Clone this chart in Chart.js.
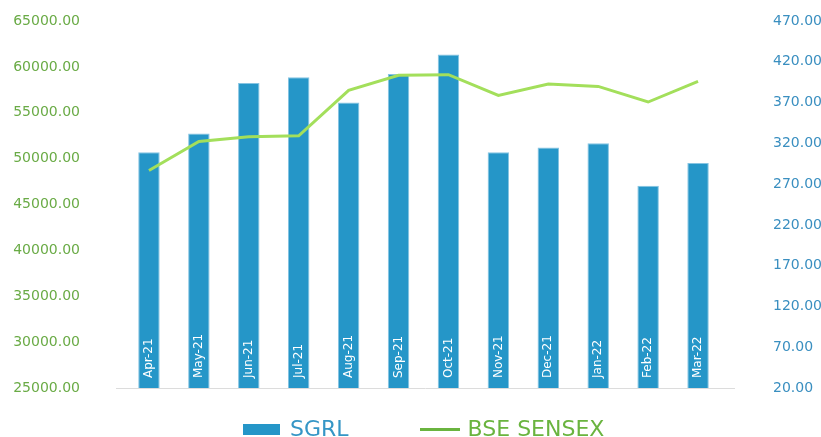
<!DOCTYPE html>
<html>
<head>
<meta charset="utf-8">
<script src="https://cdn.jsdelivr.net/npm/chart.js@4/dist/chart.umd.min.js"></script>
<style>
  html, body { margin: 0; padding: 0; background: #fff; }
  #wrap { position: relative; width: 821px; height: 437px; }
  #legend {
    position: absolute; left: 243px; top: 416px;
    display: flex; align-items: center; gap: 71px;
    font-family: "DejaVu Sans", sans-serif; font-size: 22px; line-height: 26px;
  }
  .item { display: flex; align-items: center; }
  .swatch { display: inline-block; margin-right: 10px; }
</style>
</head>
<body>
<div id="wrap">
  <canvas id="chart" width="821" height="437"></canvas>
  <div id="legend"></div>
</div>
<script>
"use strict";

const months = ["Apr-21", "May-21", "Jun-21", "Jul-21", "Aug-21", "Sep-21",
                "Oct-21", "Nov-21", "Dec-21", "Jan-22", "Feb-22", "Mar-22"];
const sgrl = [309, 332, 394, 401, 370, 405, 429, 309, 315, 320, 268, 296];
const sensex = [48700, 51860, 52380, 52490, 57440, 59080, 59150, 56890, 58140, 57870, 56170, 58420];

const leftTicks = { min: 25000, max: 65000, step: 5000 };
const rightTicks = { min: 20, max: 470, step: 50 };

const FONT = "DejaVu Sans";
const $ = (id) => document.getElementById(id);

// axis line (a bit wider than the plot) + month labels rotated inside the bars
const insideLabels = {
  id: "insideLabels",
  beforeDatasetsDraw(chart) {
    const { ctx, chartArea } = chart;
    ctx.save();
    ctx.strokeStyle = "#dcdcdc";
    ctx.lineWidth = 1;
    ctx.beginPath();
    ctx.moveTo(chartArea.left - 8, chartArea.bottom + 0.5);
    ctx.lineTo(chartArea.right + 12, chartArea.bottom + 0.5);
    ctx.stroke();
    ctx.restore();
  },
  afterDatasetsDraw(chart) {
    const { ctx } = chart;
    const x = chart.scales.x;
    ctx.save();
    ctx.fillStyle = "#ffffff";
    ctx.font = `12px "${FONT}"`;
    ctx.textAlign = "left";
    ctx.textBaseline = "middle";
    months.forEach((m, i) => {
      ctx.save();
      ctx.translate(x.getPixelForValue(i), x.top - 10);
      ctx.rotate(-Math.PI / 2);
      ctx.fillText(m, 0, 0);
      ctx.restore();
    });
    ctx.restore();
  },
};

// tick padding also pads the axis vertically in chart.js; undo that
const fixWidth = (w) => (s) => {
  s.width = w;
  s.paddingTop = 0;
  s.paddingBottom = 0;
};

const chart = new Chart($("chart"), {
  data: {
    labels: months,
    datasets: [
      {
        type: "bar",
        label: "SGRL",
        data: sgrl,
        yAxisID: "y1",
        backgroundColor: "#2596c8",
        borderColor: "#86c4e2",
        borderWidth: 1,
        barPercentage: 0.43,
        categoryPercentage: 1,
        order: 1,
        legendColor: "#2596c8",
        legendText: "#3596c6",
      },
      {
        type: "line",
        label: "BSE SENSEX",
        data: sensex,
        yAxisID: "y",
        borderColor: "#a3df5b",
        borderWidth: 3,
        pointRadius: 0,
        tension: 0,
        order: 0,
        legendColor: "#6ab43f",
        legendText: "#6ab43f",
      },
    ],
  },
  options: {
    responsive: false,
    animation: false,
    layout: { padding: { top: 21, bottom: 49, left: 0, right: 0 } },
    plugins: { legend: { display: false }, tooltip: { enabled: false } },
    scales: {
      x: {
        grid: { display: false },
        border: { display: false },
        ticks: { display: false },
        afterFit: (s) => { s.height = 0; },
      },
      y: {
        position: "left",
        min: leftTicks.min,
        max: leftTicks.max,
        grid: { display: false, drawTicks: false },
        border: { display: false },
        ticks: {
          stepSize: leftTicks.step,
          padding: 44,
          color: "#6aab46",
          font: { family: FONT, size: 14 },
          callback: (v) => v.toFixed(2),
        },
        afterFit: fixWidth(124),
      },
      y1: {
        position: "right",
        min: rightTicks.min,
        max: rightTicks.max,
        grid: { display: false, drawTicks: false },
        border: { display: false },
        ticks: {
          stepSize: rightTicks.step,
          padding: 50,
          color: "#3a8fc0",
          font: { family: FONT, size: 14 },
          callback: (v) => v.toFixed(2),
        },
        afterFit: fixWidth(98),
      },
    },
  },
  plugins: [insideLabels],
});

// html legend built from the datasets
for (const ds of chart.data.datasets) {
  const item = document.createElement("span");
  item.className = "item";
  const sw = document.createElement("span");
  sw.className = "swatch";
  if (ds.type === "bar") {
    sw.style.cssText = `width:37px;height:11px;background:${ds.legendColor};`;
  } else {
    sw.style.cssText = `width:40px;height:3px;background:${ds.legendColor};margin-right:8px;`;
  }
  const txt = document.createElement("span");
  txt.textContent = ds.label;
  txt.style.color = ds.legendText;
  item.append(sw, txt);
  $("legend").append(item);
}
</script>
</body>
</html>
